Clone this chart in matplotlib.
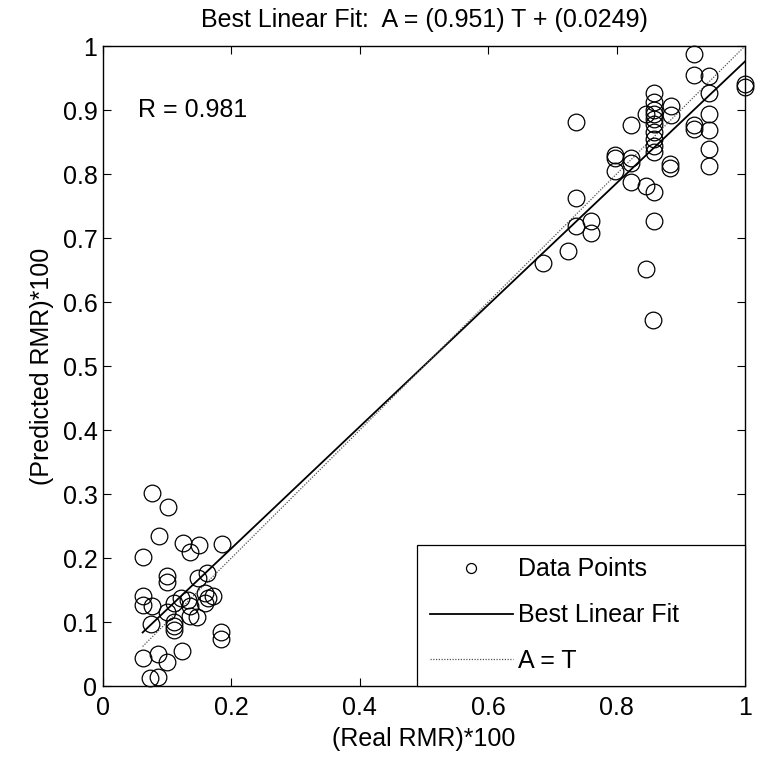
import numpy as np
import matplotlib
matplotlib.use("Agg")
import matplotlib.pyplot as plt

plt.rcParams['font.family'] = ['Liberation Sans', 'DejaVu Sans']

# Real (target) values T and predicted (actual) values A
real_low = [0.0757, 0.1006, 0.0876, 0.124, 0.149, 0.136, 0.185, 0.0627,
            0.0995, 0.0995, 0.162, 0.148, 0.0627, 0.0627, 0.0757, 0.122,
            0.110, 0.133, 0.136, 0.159, 0.172, 0.164, 0.159, 0.0995,
            0.136, 0.147, 0.111, 0.111, 0.111, 0.0746, 0.1835, 0.1835,
            0.0617, 0.086, 0.099, 0.123, 0.0736, 0.086]
pred_low = [0.302, 0.280, 0.235, 0.224, 0.221, 0.209, 0.222, 0.2017,
            0.1716, 0.162, 0.176, 0.169, 0.140, 0.126, 0.125, 0.137,
            0.129, 0.134, 0.125, 0.1446, 0.1405, 0.138, 0.130, 0.1156,
            0.109, 0.108, 0.100, 0.0938, 0.0876, 0.0964, 0.0845, 0.073,
            0.043, 0.0498, 0.038, 0.055, 0.012, 0.0135]

real_high = [0.9207, 0.921, 0.9445, 1.0, 1.0, 0.9445, 0.858,
             0.858, 0.858, 0.858, 0.858, 0.858, 0.858, 0.858, 0.858, 0.858,
             0.8455, 0.884, 0.884, 0.823, 0.737, 0.920, 0.920,
             0.9445, 0.9445, 0.9445, 0.9445, 0.798, 0.798, 0.798,
             0.823, 0.823, 0.823, 0.883, 0.883, 0.8455, 0.858, 0.858,
             0.8455, 0.856, 0.737, 0.737, 0.760, 0.760, 0.7237, 0.686]
pred_high = [0.987, 0.955, 0.953, 0.941, 0.936, 0.926, 0.927,
             0.912, 0.900, 0.893, 0.886, 0.878, 0.866, 0.855, 0.843, 0.834,
             0.893, 0.907, 0.892, 0.876, 0.881, 0.877, 0.871,
             0.893, 0.868, 0.839, 0.813, 0.829, 0.825, 0.804,
             0.825, 0.817, 0.788, 0.815, 0.810, 0.781, 0.772, 0.727,
             0.651, 0.572, 0.762, 0.718, 0.726, 0.708, 0.679, 0.661]

slope = 0.951
intercept = 0.0249
r_value = 0.981

T = np.array(real_low + real_high)
A = np.array(pred_low + pred_high)

fig = plt.figure(figsize=(7.6, 7.66), dpi=100)
ax = fig.add_axes([103/760, 1 - 686/766, 642/760, 640/766])

FS = 18

ax.plot(T, A, linestyle='none', marker='o', markersize=12,
        markerfacecolor='none', markeredgecolor='black', markeredgewidth=0.9,
        label='Data Points', clip_on=False, zorder=3)
tx = np.array([T.min(), T.max()])
ax.plot(tx, slope * tx + intercept, color='black', linewidth=1.3,
        label='Best Linear Fit', zorder=2)
ax.plot(tx, tx, color='#555555', linewidth=0.9, linestyle=(0, (1, 1.2)),
        label='A = T', zorder=2)

ax.set_xlim(0, 1)
ax.set_ylim(0, 1)
ax.set_xticks(np.arange(0, 1.01, 0.2))
ax.set_xticklabels(['0', '0.2', '0.4', '0.6', '0.8', '1'])
ax.set_yticks(np.arange(0, 1.01, 0.1))
ax.set_yticklabels(['0', '0.1', '0.2', '0.3', '0.4', '0.5', '0.6', '0.7',
                    '0.8', '0.9', '1'])
ax.tick_params(direction='in', length=6, width=0.8, top=True, right=True,
               labelsize=FS)
ax.tick_params(axis='x', pad=7)
ax.tick_params(axis='y', pad=4)
for s in ax.spines.values():
    s.set_linewidth(1.0)

ax.set_xlabel('(Real RMR)*100', fontsize=FS)
ax.set_ylabel('(Predicted RMR)*100', fontsize=FS)
ax.xaxis.set_label_coords(0.5, (686 - 739) / 640)
ax.xaxis.label.set_va('center')
ax.yaxis.set_label_coords((42 - 103) / 642, 0.5)
ax.yaxis.label.set_va('center')

ax.set_title(f'Best Linear Fit:  A = ({slope}) T + ({intercept})',
             fontsize=FS, pad=13.5)
ax.text((138 - 103) / 642, 0.9, f'R = {r_value}', fontsize=FS,
        ha='left', va='center', transform=ax.transAxes)

leg_x0 = (417 - 103) / 642
leg_h = (686 - 545) / 640
leg = ax.legend(loc='lower left', bbox_to_anchor=(leg_x0, 0, 1 - leg_x0, leg_h),
                mode='expand', fontsize=FS, borderaxespad=0,
                fancybox=False, edgecolor='black', framealpha=1,
                handlelength=3.3, labelspacing=0.87, numpoints=1,
                markerscale=0.6, borderpad=0.52, handletextpad=0.2)
leg.get_frame().set_linewidth(0.9)

fig.savefig('out.png', dpi=100)
